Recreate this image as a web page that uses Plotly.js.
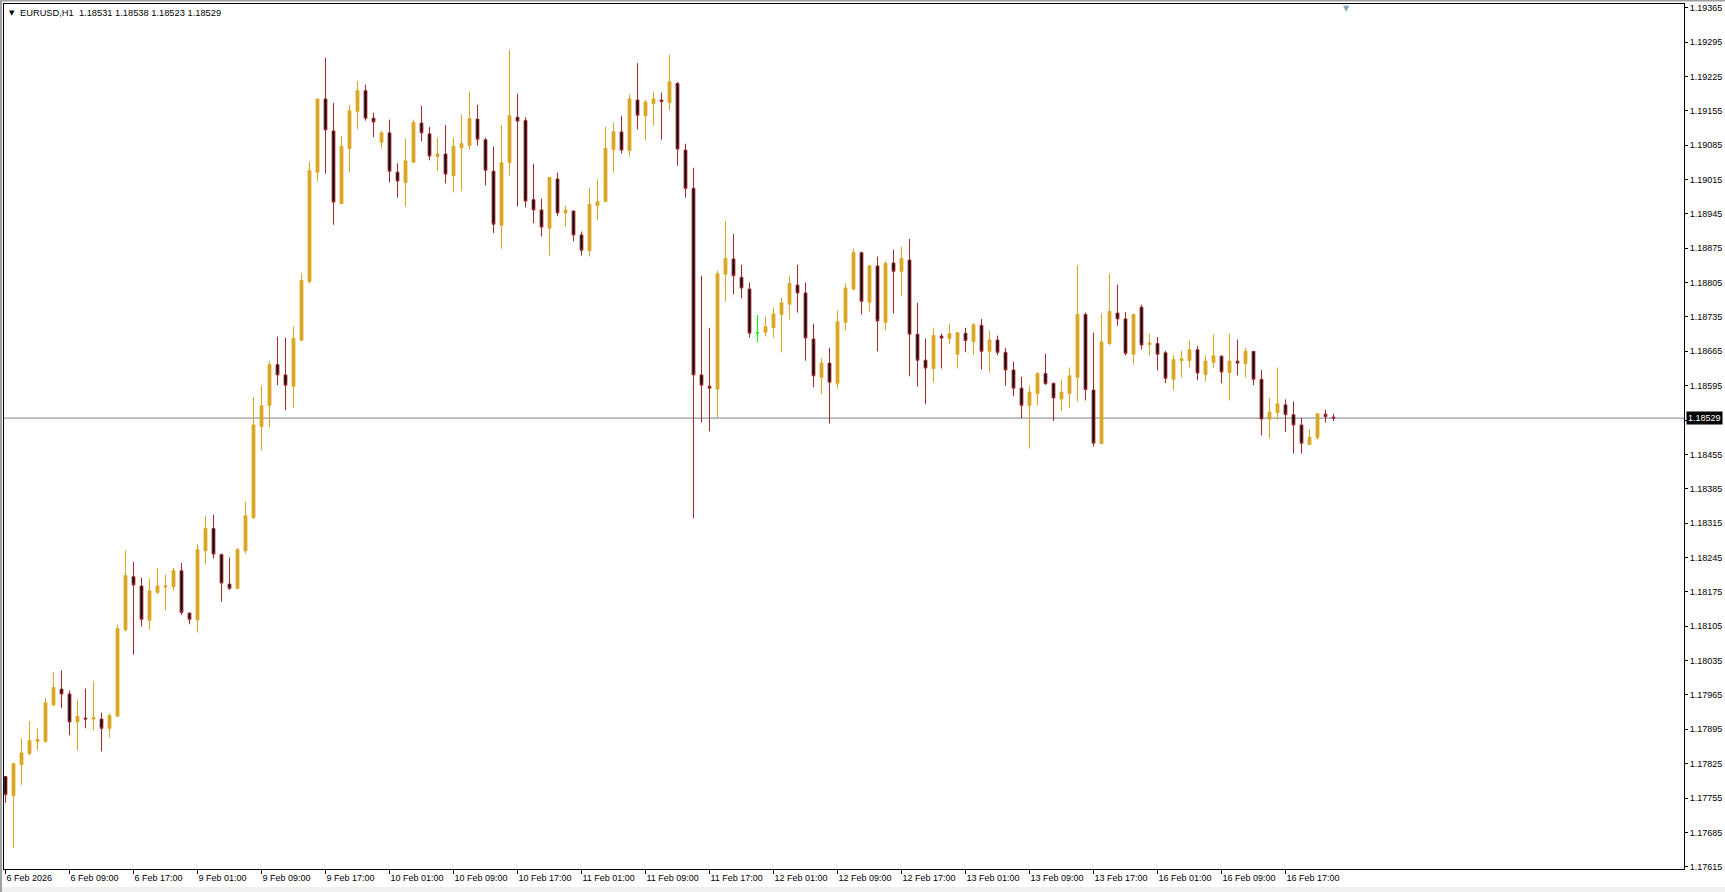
<!DOCTYPE html>
<html>
<head>
<meta charset="utf-8">
<script src="https://cdn.plot.ly/plotly-3.0.1.min.js"></script>
<style>
html,body{margin:0;padding:0;background:#ffffff;overflow:hidden;}
#chart{width:1725px;height:892px;}
</style>
</head>
<body>
<div id="chart"></div>
<script>
// ---------------- DATA (EURUSD, H1) ----------------
const symbolName = "EURUSD,H1";

// hourly bars, index 0 = 6 Feb 2026 01:00 ... index 166 = 16 Feb 2026 23:00
const openP = [
1.17799,1.17760,1.17823,1.17846,1.17870,1.17870,1.17945,1.17977,1.17967,1.17910,
1.17918,1.17916,1.17916,1.17897,1.17922,1.18098,1.18206,1.18187,1.18117,1.18174,
1.18185,1.18186,1.18218,1.18132,1.18118,1.18259,1.18304,1.18251,1.18191,1.18182,
1.18259,1.18326,1.18512,1.18555,1.18638,1.18617,1.18594,1.18688,1.18807,1.19030,
1.19179,1.19114,1.18966,1.19078,1.19154,1.19196,1.19140,1.19091,1.19110,1.19030,
1.19009,1.19050,1.19130,1.19108,1.19062,1.19067,1.19023,1.19080,1.19084,1.19138,
1.19096,1.19032,1.18922,1.19049,1.19142,1.19135,1.18974,1.18953,1.18916,1.19016,
1.18947,1.18951,1.18902,1.18870,1.18962,1.18970,1.19076,1.19112,1.19074,1.19177,
1.19145,1.19170,1.19177,1.19172,1.19211,1.19075,1.18997,1.18617,1.18594,1.18588,
1.18822,1.18853,1.18816,1.18792,1.18702,1.18704,1.18713,1.18740,1.18761,1.18800,
1.18784,1.18690,1.18612,1.18641,1.18600,1.18724,1.18792,1.18866,1.18765,1.18839,
1.18724,1.18845,1.18828,1.18851,1.18700,1.18647,1.18630,1.18696,1.18691,1.18659,
1.18702,1.18685,1.18718,1.18665,1.18688,1.18663,1.18627,1.18590,1.18555,1.18579,
1.18620,1.18600,1.18568,1.18579,1.18612,1.18740,1.18586,1.18477,1.18681,1.18743,
1.18731,1.18659,1.18755,1.18679,1.18681,1.18662,1.18608,1.18646,1.18646,1.18668,
1.18618,1.18643,1.18655,1.18622,1.18645,1.18640,1.18665,1.18608,1.18527,1.18540,
1.18556,1.18536,1.18515,1.18475,1.18489,1.18537,1.18531
];
const highP = [
1.17800,1.17826,1.17877,1.17912,1.17897,1.17959,1.18011,1.18015,1.17974,1.17956,
1.17978,1.17994,1.17929,1.17927,1.18108,1.18259,1.18236,1.18204,1.18202,1.18224,
1.18210,1.18224,1.18234,1.18132,1.18271,1.18330,1.18332,1.18253,1.18245,1.18265,
1.18359,1.18572,1.18595,1.18645,1.18695,1.18693,1.18716,1.18825,1.19051,1.19179,
1.19263,1.19171,1.19104,1.19167,1.19216,1.19208,1.19151,1.19114,1.19137,1.19048,
1.19098,1.19137,1.19165,1.19122,1.19100,1.19126,1.19100,1.19147,1.19194,1.19167,
1.19100,1.19082,1.19126,1.19279,1.19190,1.19142,1.19047,1.18976,1.19019,1.19029,
1.18962,1.18951,1.18909,1.18998,1.19015,1.19122,1.19130,1.19145,1.19188,1.19252,
1.19177,1.19194,1.19192,1.19269,1.19213,1.19088,1.19039,1.18819,1.18713,1.18829,
1.18931,1.18904,1.18841,1.18805,1.18739,1.18736,1.18754,1.18774,1.18819,1.18841,
1.18805,1.18721,1.18651,1.18672,1.18748,1.18803,1.18874,1.18868,1.18841,1.18858,
1.18848,1.18872,1.18878,1.18894,1.18764,1.18691,1.18713,1.18701,1.18721,1.18703,
1.18713,1.18722,1.18731,1.18707,1.18697,1.18672,1.18644,1.18613,1.18595,1.18622,
1.18660,1.18600,1.18607,1.18632,1.18841,1.18744,1.18703,1.18742,1.18823,1.18801,
1.18745,1.18741,1.18760,1.18701,1.18694,1.18666,1.18657,1.18666,1.18687,1.18676,
1.18657,1.18699,1.18657,1.18701,1.18689,1.18672,1.18665,1.18627,1.18570,1.18632,
1.18567,1.18563,1.18529,1.18506,1.18538,1.18546,1.18538
];
const lowP = [
1.17745,1.17653,1.17782,1.17842,1.17852,1.17868,1.17942,1.17938,1.17883,1.17852,
1.17897,1.17893,1.17850,1.17878,1.17920,1.18094,1.18047,1.18104,1.18098,1.18171,
1.18137,1.18178,1.18128,1.18109,1.18092,1.18232,1.18243,1.18155,1.18179,1.18182,
1.18253,1.18324,1.18464,1.18510,1.18596,1.18545,1.18550,1.18685,1.18803,1.19011,
1.19027,1.18923,1.18966,1.19030,1.19118,1.19135,1.19101,1.19078,1.19009,1.18978,
1.18960,1.19050,1.19093,1.19054,1.19032,1.19007,1.18989,1.18991,1.19076,1.19084,
1.19003,1.18906,1.18874,1.19023,1.18960,1.18958,1.18926,1.18899,1.18860,1.18940,
1.18919,1.18889,1.18860,1.18858,1.18933,1.18970,1.19029,1.19068,1.19062,1.19117,
1.19095,1.19125,1.19096,1.19156,1.19043,1.18978,1.18325,1.18520,1.18502,1.18530,
1.18767,1.18781,1.18773,1.18693,1.18683,1.18695,1.18693,1.18663,1.18730,1.18744,
1.18646,1.18592,1.18578,1.18518,1.18589,1.18708,1.18789,1.18740,1.18746,1.18665,
1.18708,1.18742,1.18777,1.18614,1.18593,1.18557,1.18602,1.18630,1.18680,1.18630,
1.18663,1.18657,1.18628,1.18622,1.18657,1.18595,1.18574,1.18529,1.18467,1.18555,
1.18597,1.18523,1.18543,1.18550,1.18563,1.18565,1.18471,1.18477,1.18678,1.18717,
1.18657,1.18638,1.18669,1.18656,1.18626,1.18600,1.18586,1.18612,1.18632,1.18606,
1.18604,1.18632,1.18600,1.18565,1.18616,1.18612,1.18596,1.18494,1.18488,1.18526,
1.18501,1.18457,1.18457,1.18475,1.18485,1.18520,1.18523
];
const closeP = [
1.17762,1.17825,1.17847,1.17872,1.17874,1.17949,1.17980,1.17967,1.17910,1.17921,
1.17916,1.17919,1.17897,1.17923,1.18100,1.18208,1.18189,1.18119,1.18177,1.18187,
1.18187,1.18218,1.18133,1.18119,1.18261,1.18304,1.18252,1.18193,1.18182,1.18261,
1.18330,1.18515,1.18554,1.18638,1.18617,1.18596,1.18691,1.18809,1.19033,1.19179,
1.19116,1.18969,1.19082,1.19155,1.19196,1.19140,1.19132,1.19110,1.19032,1.19012,
1.19053,1.19131,1.19110,1.19063,1.19067,1.19026,1.19082,1.19088,1.19139,1.19097,
1.19034,1.18924,1.19049,1.19145,1.19134,1.18971,1.18953,1.18918,1.19019,1.18947,
1.18953,1.18902,1.18871,1.18964,1.18970,1.19078,1.19112,1.19075,1.19179,1.19146,
1.19173,1.19179,1.19174,1.19214,1.19077,1.18997,1.18617,1.18596,1.18590,1.18823,
1.18854,1.18819,1.18794,1.18702,1.18702,1.18715,1.18741,1.18764,1.18803,1.18784,
1.18692,1.18615,1.18641,1.18602,1.18725,1.18794,1.18866,1.18767,1.18839,1.18727,
1.18844,1.18828,1.18854,1.18700,1.18647,1.18631,1.18697,1.18692,1.18701,1.18703,
1.18687,1.18719,1.18665,1.18688,1.18663,1.18627,1.18590,1.18555,1.18582,1.18620,
1.18599,1.18570,1.18582,1.18615,1.18740,1.18587,1.18478,1.18684,1.18746,1.18731,
1.18661,1.18740,1.18678,1.18682,1.18659,1.18610,1.18648,1.18650,1.18668,1.18621,
1.18645,1.18656,1.18623,1.18645,1.18641,1.18665,1.18608,1.18527,1.18541,1.18558,
1.18536,1.18515,1.18478,1.18490,1.18538,1.18532,1.18529
];

// time axis labels (every 8 bars)
const timeTickPos = [0,8,16,24,32,40,48,56,64,72,80,88,96,104,112,120,128,136,144,152,160];
const timeTickLabels = ["6 Feb 2026","6 Feb 09:00","6 Feb 17:00","9 Feb 01:00","9 Feb 09:00",
  "9 Feb 17:00","10 Feb 01:00","10 Feb 09:00","10 Feb 17:00","11 Feb 01:00","11 Feb 09:00",
  "11 Feb 17:00","12 Feb 01:00","12 Feb 09:00","12 Feb 17:00","13 Feb 01:00","13 Feb 09:00",
  "13 Feb 17:00","16 Feb 01:00","16 Feb 09:00","16 Feb 17:00"];

// price axis labels
const priceTicks = [1.17615,1.17685,1.17755,1.17825,1.17895,1.17965,1.18035,1.18105,1.18175,
  1.18245,1.18315,1.18385,1.18455,1.18525,1.18595,1.18665,1.18735,1.18805,1.18875,1.18945,
  1.19015,1.19085,1.19155,1.19225,1.19295,1.19365];
const priceTickLabels = ["1.17615","1.17685","1.17755","1.17825","1.17895","1.17965","1.18035",
  "1.18105","1.18175","1.18245","1.18315","1.18385","1.18455","","1.18595","1.18665","1.18735",
  "1.18805","1.18875","1.18945","1.19015","1.19085","1.19155","1.19225","1.19295","1.19365"];

// ---------------- STYLE ----------------
const W = 1725, H = 892;
const M = {l: 4, r: 41, t: 4, b: 23};
const plotW = W - M.l - M.r;
const plotH = H - M.t - M.b;
const pxPerBar = 8;
const xStart = -0.1875;
const yRange = [1.176105, 1.193725];
const FONT = "Liberation Sans, Arial, sans-serif";
const GOLD = "#DAA520";
const BEAR_LINE = "#A52A2A";
const DOJI = "#00FF00";
const PRICE_LINE = "#708090";

const barIndex = openP.map((_, i) => i);
const bodyIdx = barIndex.filter(i => openP[i] !== closeP[i]);
const dojiIdx = barIndex.filter(i => openP[i] === closeP[i]);
const pick = (arr, idx) => idx.map(i => arr[i]);

const last = closeP.length - 1;
const fmt = v => v.toFixed(5);

const traces = [
  {
    type: "candlestick",
    x: pick(barIndex, bodyIdx),
    open: pick(openP, bodyIdx), high: pick(highP, bodyIdx),
    low: pick(lowP, bodyIdx), close: pick(closeP, bodyIdx),
    increasing: {line: {color: GOLD, width: 1}, fillcolor: GOLD},
    decreasing: {line: {color: BEAR_LINE, width: 1}, fillcolor: "#000000"},
    whiskerwidth: 0, hoverinfo: "skip", showlegend: false
  },
  {
    type: "candlestick",
    x: pick(barIndex, dojiIdx),
    open: pick(openP, dojiIdx), high: pick(highP, dojiIdx),
    low: pick(lowP, dojiIdx), close: pick(closeP, dojiIdx),
    increasing: {line: {color: DOJI, width: 1}, fillcolor: DOJI},
    decreasing: {line: {color: DOJI, width: 1}, fillcolor: DOJI},
    whiskerwidth: 0, hoverinfo: "skip", showlegend: false
  }
];

const px2paperX = px => (px - M.l) / plotW;
const px2paperY = py => 1 - (py - M.t) / plotH;

const layout = {
  width: W, height: H,
  margin: {l: M.l, r: M.r, t: M.t, b: M.b, pad: 0},
  paper_bgcolor: "#ffffff", plot_bgcolor: "#ffffff",
  showlegend: false,
  boxgap: 0.5, boxmode: "overlay",
  title: {
    text: symbolName + "\u00a0\u00a0" + fmt(openP[last]) + " " + fmt(highP[last]) + " " + fmt(lowP[last]) + " " + fmt(closeP[last]),
    xref: "container", x: 20 / W, xanchor: "left",
    yref: "container", y: 1 - 12.5 / H, yanchor: "middle",
    font: {family: FONT, size: 9.3, color: "#000000"}
  },
  xaxis: {
    type: "linear", range: [xStart, xStart + plotW / pxPerBar],
    showgrid: false, zeroline: false,
    showline: true, mirror: true, linecolor: "#000000", linewidth: 1,
    ticks: "outside", ticklen: 4, tickwidth: 1, tickcolor: "#000000",
    tickmode: "array", tickvals: timeTickPos, ticktext: timeTickLabels,
    ticklabelposition: "outside right",
    tickfont: {family: FONT, size: 9, color: "#000000"},
    rangeslider: {visible: false}, fixedrange: true, automargin: false
  },
  yaxis: {
    type: "linear", range: yRange, side: "right",
    showgrid: false, zeroline: false,
    showline: true, mirror: true, linecolor: "#000000", linewidth: 1,
    ticks: "outside", ticklen: 3, tickwidth: 1, tickcolor: "#000000",
    tickmode: "array", tickvals: priceTicks, ticktext: priceTickLabels,
    tickfont: {family: FONT, size: 9, color: "#000000"},
    fixedrange: true, automargin: false
  },
  shapes: [
    // bid line
    {type: "line", xref: "paper", x0: 0, x1: 1, yref: "y", y0: closeP[last], y1: closeP[last],
     line: {color: PRICE_LINE, width: 1}, layer: "below"},
    // window frame
    {type: "rect", xref: "paper", yref: "paper", x0: px2paperX(0), x1: px2paperX(2),
     y0: px2paperY(H), y1: px2paperY(0), fillcolor: "#a0a0a0", line: {width: 0}},
    {type: "rect", xref: "paper", yref: "paper", x0: px2paperX(0), x1: px2paperX(W),
     y0: px2paperY(1.5), y1: px2paperY(0), fillcolor: "#a0a0a0", line: {width: 0}},
    {type: "rect", xref: "paper", yref: "paper", x0: px2paperX(2), x1: px2paperX(W),
     y0: px2paperY(H), y1: px2paperY(887), fillcolor: "#f0f0f0", line: {width: 0}}
  ],
  annotations: [
    {xref: "paper", yref: "paper", x: px2paperX(6.5), y: px2paperY(12.5), xanchor: "left", yanchor: "middle",
     text: "\u25BC", showarrow: false, font: {family: "DejaVu Sans", size: 7, color: "#000000"}},
    {xref: "paper", yref: "y", x: 1, y: closeP[last], xanchor: "left", yanchor: "middle", xshift: 2,
     text: fmt(closeP[last]), showarrow: false, bgcolor: "#000000", borderpad: 1,
     font: {family: FONT, size: 9, color: "#ffffff"}},
    {xref: "paper", yref: "paper", x: px2paperX(1346), y: px2paperY(2), xanchor: "center", yanchor: "top",
     text: "\u25BC", showarrow: false, font: {family: "DejaVu Sans", size: 8, color: "#8aa2bd"}}
  ]
};

Plotly.newPlot("chart", traces, layout, {staticPlot: true, displayModeBar: false});
</script>
</body>
</html>
